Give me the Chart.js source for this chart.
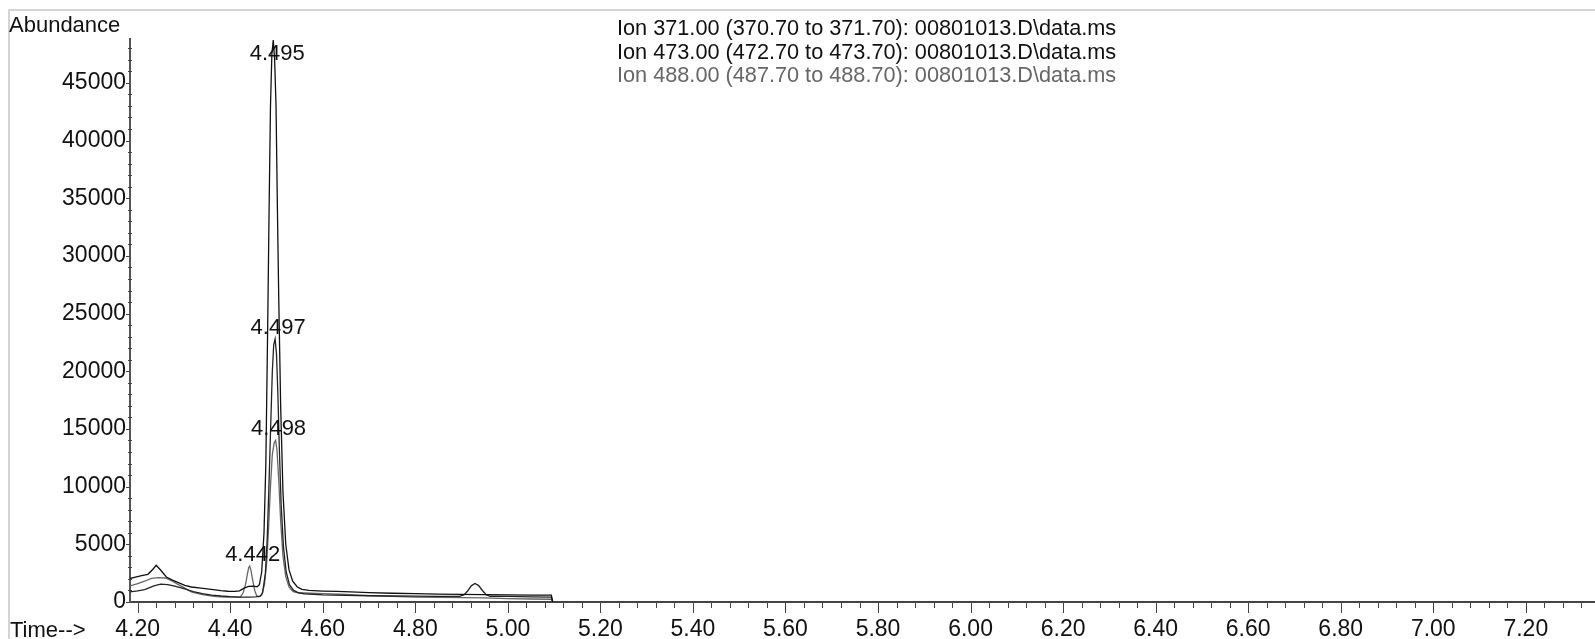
<!DOCTYPE html>
<html>
<head>
<meta charset="utf-8">
<title>Ion chromatogram</title>
<script src="https://cdn.jsdelivr.net/npm/chart.js@4.4.0/dist/chart.umd.min.js"></script>
<style>
  html, body { margin: 0; padding: 0; background: #fff; }
</style>
</head>
<body>
<canvas id="myChart" width="1595" height="639"></canvas>
<script>
// extracted ion traces, time in minutes, abundance in counts
var ionLabels = [
  "Ion 371.00 (370.70 to 371.70): 00801013.D\\data.ms",
  "Ion 473.00 (472.70 to 473.70): 00801013.D\\data.ms",
  "Ion 488.00 (487.70 to 488.70): 00801013.D\\data.ms"
];

var time371 = [4.183, 4.195, 4.211, 4.222, 4.232, 4.240, 4.250, 4.262, 4.275, 4.288, 4.302, 4.316, 4.337, 4.359,
  4.380, 4.395, 4.410, 4.420, 4.430, 4.440, 4.450, 4.458, 4.463, 4.468, 4.473, 4.477, 4.481, 4.484, 4.487, 4.490,
  4.493, 4.496, 4.499, 4.502, 4.505, 4.509, 4.514, 4.520, 4.527, 4.535, 4.545, 4.555, 4.570, 4.600, 4.630, 4.660,
  4.700, 4.750, 4.800, 4.850, 4.900, 4.950, 5.000, 5.050, 5.094, 5.097];
var abund371 = [2030, 2150, 2310, 2400, 2800, 3180, 2750, 2170, 1900, 1680, 1450, 1300, 1210, 1100,
  980, 930, 920, 960, 1200, 1350, 1380, 1320, 1500, 2600, 6000, 12000, 24000, 34000, 43000, 47500,
  48700, 47000, 43000, 34000, 26000, 17000, 9500, 5000, 2800, 1800, 1300, 1100, 1000, 950, 920, 880,
  820, 760, 720, 690, 660, 640, 620, 600, 590, 0];

var time473 = [4.183, 4.200, 4.215, 4.235, 4.250, 4.265, 4.280, 4.300, 4.320, 4.340, 4.360, 4.380, 4.400, 4.420,
  4.440, 4.455, 4.465, 4.470, 4.476, 4.480, 4.484, 4.488, 4.491, 4.494, 4.497, 4.500, 4.503, 4.506, 4.510, 4.515,
  4.521, 4.528, 4.537, 4.548, 4.560, 4.600, 4.650, 4.700, 4.750, 4.800, 4.850, 4.895, 4.905, 4.913, 4.921, 4.929,
  4.937, 4.945, 4.953, 4.962, 5.000, 5.050, 5.094, 5.097];
var abund473 = [870, 960, 1080, 1400, 1550, 1500, 1380, 1150, 900, 720, 600, 520, 460, 430,
  430, 440, 500, 800, 2500, 5500, 10500, 16000, 20000, 22300, 22800, 21500, 18000, 13500, 8500, 4800,
  2600, 1500, 1000, 800, 700, 620, 570, 540, 520, 505, 495, 495, 620, 950, 1400, 1600,
  1420, 1000, 640, 500, 480, 450, 430, 0];

var time488 = [4.183, 4.200, 4.215, 4.230, 4.245, 4.260, 4.275, 4.288, 4.300, 4.316, 4.335, 4.350, 4.370, 4.390,
  4.410, 4.422, 4.428, 4.433, 4.437, 4.440, 4.442, 4.445, 4.449, 4.453, 4.457, 4.462, 4.468, 4.474, 4.479, 4.483,
  4.487, 4.491, 4.495, 4.498, 4.501, 4.505, 4.509, 4.514, 4.520, 4.527, 4.536, 4.547, 4.560, 4.600, 4.650, 4.700,
  4.750, 4.800, 4.850, 4.900, 4.950, 5.000, 5.050, 5.094, 5.097];
var abund488 = [1390, 1600, 1800, 2050, 2120, 2080, 1800, 1510, 1250, 870, 680, 580, 470, 430,
  430, 450, 800, 1500, 2400, 3000, 3120, 2700, 1800, 1000, 550, 450, 600, 1500, 3500, 6500,
  10000, 12800, 13800, 14000, 13200, 10500, 7000, 4000, 2200, 1300, 900, 800, 780, 720, 650, 560,
  480, 430, 400, 380, 350, 300, 260, 240, 0];

// integrated peaks: retention time labels
var peakTimes = [4.495, 4.497, 4.498, 4.442];
var peakHeights = [48700, 22800, 14000, 3120];
var peakLabels = ["4.495", "4.497", "4.498", "4.442"];

// axis range
var timeMin = 4.1834, timeMax = 7.3495, timeStep = 0.04, timeMajor = 0.2;
var abundMin = 0, abundMax = 48800, abundStep = 1000, abundMajor = 5000;

var FONT = '"Liberation Sans", Arial, Helvetica, sans-serif';
Chart.defaults.font.family = FONT;
Chart.defaults.font.size = 22;
Chart.defaults.color = '#111';

function toPoints(t, v) {
  var pts = [];
  for (var i = 0; i < t.length; i++) {
    pts.push({x: t[i], y: v[i]});
  }
  return pts;
}

function isMultiple(v, step) {
  var q = v / step;
  return Math.abs(q - Math.round(q)) < 1e-6;
}

var chromPlugin = {
  id: 'chrom',
  beforeDraw: function(chart) {
    var ctx = chart.ctx;
    ctx.save();
    // light frame round the plot
    ctx.strokeStyle = '#d4d4d4';
    ctx.lineWidth = 2;
    ctx.beginPath();
    ctx.moveTo(9, 639);
    ctx.lineTo(9, 10);
    ctx.lineTo(1595, 10);
    ctx.stroke();
    ctx.restore();
  },
  afterDraw: function(chart) {
    var ctx = chart.ctx;
    var xs = chart.scales.x, ys = chart.scales.y;
    var area = chart.chartArea;
    ctx.save();

    // tick marks
    ctx.strokeStyle = '#444';
    ctx.lineWidth = 1;
    ctx.beginPath();
    xs.ticks.forEach(function(t) {
      if (!isMultiple(t.value, timeStep)) return;
      var px = Math.round(xs.getPixelForValue(t.value)) + 0.5;
      var len = isMultiple(t.value, timeMajor) ? 11 : 6;
      ctx.moveTo(px, area.bottom);
      ctx.lineTo(px, area.bottom + len);
    });
    ys.ticks.forEach(function(t) {
      if (!isMultiple(t.value, abundStep)) return;
      var py = Math.round(ys.getPixelForValue(t.value)) + 0.5;
      if (isMultiple(t.value, abundMajor)) {
        ctx.moveTo(area.left - 4, py);
        ctx.lineTo(area.left, py);
      } else {
        ctx.moveTo(area.left - 2, py);
        ctx.lineTo(area.left + 2, py);
      }
    });
    ctx.stroke();

    // peak retention time labels
    ctx.font = '22px ' + FONT;
    ctx.fillStyle = '#111';
    ctx.textAlign = 'center';
    ctx.textBaseline = 'alphabetic';
    for (var i = 0; i < peakTimes.length; i++) {
      var x = xs.getPixelForValue(peakTimes[i]) + 3;
      var y = ys.getPixelForValue(Math.min(peakHeights[i], abundMax)) - 5;
      if (y < area.top + 21) y = area.top + 21;
      ctx.fillText(peakLabels[i], x, y);
    }

    // axis titles
    ctx.textAlign = 'left';
    ctx.fillText('Abundance', 9, 32);
    ctx.fillText('Time-->', 10, 637);

    // ion legend
    ctx.font = '21.7px ' + FONT;
    chart.data.datasets.forEach(function(ds, k) {
      ctx.fillStyle = ds.legendColor;
      ctx.fillText(ds.label, 617, 35 + k * 23.5);
    });
    ctx.restore();
  }
};

var canvas = document.getElementById('myChart');
var chart = new Chart(canvas, {
  type: 'line',
  data: {
    datasets: [
      {
        label: ionLabels[0],
        data: toPoints(time371, abund371),
        borderColor: '#111',
        legendColor: '#111',
        borderWidth: 1.3
      },
      {
        label: ionLabels[1],
        data: toPoints(time473, abund473),
        borderColor: '#222',
        legendColor: '#111',
        borderWidth: 1.3
      },
      {
        label: ionLabels[2],
        data: toPoints(time488, abund488),
        borderColor: '#666',
        legendColor: '#666',
        borderWidth: 1.3
      }
    ]
  },
  options: {
    responsive: false,
    animation: false,
    layout: { padding: { top: 39, left: 0, right: 0, bottom: 0 } },
    elements: {
      point: { radius: 0 },
      line: { tension: 0, fill: false }
    },
    plugins: {
      legend: { display: false },
      title: { display: false },
      tooltip: { enabled: false }
    },
    scales: {
      x: {
        type: 'linear',
        min: timeMin,
        max: timeMax,
        afterFit: function(s) {
          s.height = 37;
          s.paddingLeft = 0;
          s.paddingRight = 0;
        },
        grid: { display: false, drawTicks: false },
        border: { display: true, color: '#444', width: 2 },
        ticks: {
          stepSize: timeStep,
          maxTicksLimit: 100,
          includeBounds: false,
          autoSkip: false,
          maxRotation: 0,
          padding: 14,
          color: '#111',
          font: { size: 23 },
          callback: function(v) {
            return isMultiple(v, timeMajor) ? v.toFixed(2) : '';
          }
        }
      },
      y: {
        type: 'linear',
        bounds: 'data',
        suggestedMin: abundMin,
        suggestedMax: abundMax,
        afterFit: function(s) {
          s.width = 130;
          s.paddingTop = 0;
          s.paddingBottom = 0;
        },
        grid: { display: false, drawTicks: false },
        border: { display: true, color: '#555', width: 2 },
        ticks: {
          stepSize: abundStep,
          autoSkip: false,
          padding: 4,
          color: '#111',
          font: { size: 23 },
          callback: function(v) {
            return isMultiple(v, abundMajor) ? String(v) : '';
          }
        }
      }
    }
  },
  plugins: [chromPlugin]
});
</script>
</body>
</html>
